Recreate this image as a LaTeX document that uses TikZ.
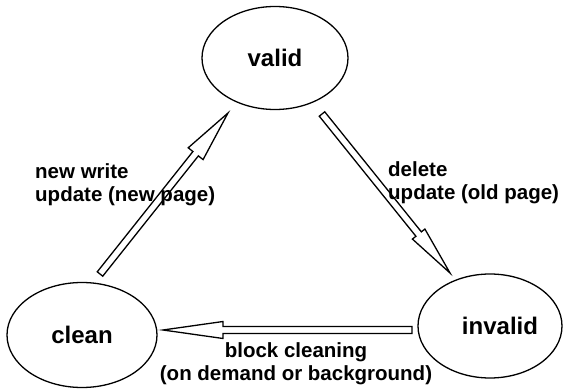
\documentclass[tikz,border=0pt]{standalone}
\usepackage{fontspec}
\setmainfont{Liberation Sans}
\usetikzlibrary{shapes.geometric,calc}

% hollow block arrow: #1 head length, #2 head half-width, #3 tail, #4 tip
\newcommand\blockarrow[4]{%
  \draw[arrowline]
    ($(#3)!3.5pt!90:(#4)$)
    -- ($(#4)!#1!(#3)!3.5pt!90:(#4)$)
    -- ($(#4)!#1!(#3)!#2!90:(#4)$)
    -- (#4)
    -- ($(#4)!#1!(#3)!#2!-90:(#4)$)
    -- ($(#4)!#1!(#3)!3.5pt!-90:(#4)$)
    -- ($(#3)!3.5pt!-90:(#4)$)
    -- cycle;}

\tikzset{
  state/.style={ellipse, draw, line width=1.3pt, inner sep=0pt,
    minimum width=146pt, minimum height=103pt,
    font=\fontsize{24}{28}\selectfont\bfseries},
  arrowline/.style={draw, line width=1.3pt, line join=miter},
  lbl/.style={inner sep=0pt, font=\fontsize{20.5}{23.5}\selectfont\bfseries}
}

\begin{document}
\begin{tikzpicture}[x=1pt, y=-1pt]
  \useasboundingbox (0,0) rectangle (563,390);

  % states
  \node[state] (valid) at (275,58) {valid};
  \node[state, minimum width=150pt, minimum height=105pt] (clean) at (82,335) {clean};
  \node[state, minimum width=144pt, minimum height=104pt,
        label={[font=\fontsize{24}{28}\selectfont\bfseries, xshift=10pt]center:invalid}]
        (invalid) at (490,326) {};

  % arrow end points
  \coordinate (nwtail) at (100,274);
  \coordinate (nwtip)  at (228,113);
  \coordinate (deltail) at (322,114);
  \coordinate (deltip)  at (450,273);
  \coordinate (cltail) at (412,330);
  \coordinate (cltip)  at (163,330);

  % transition labels (base anchor sits on the last line)
  \node[lbl, anchor=base west, align=left] (newlbl) at (35,202)
    {new write\\update (new page)};
  \node[lbl, anchor=base west, align=left] (dellbl) at (388,200)
    {delete\\update (old page)};
  \node[lbl, anchor=base, align=center] (cleanlbl) at (296,381)
    {block cleaning\\(on demand or background)};

  % transitions
  \blockarrow{52pt}{9.5pt}{nwtail}{nwtip}
  \blockarrow{50pt}{8pt}{deltail}{deltip}
  \blockarrow{60pt}{8.5pt}{cltail}{cltip}
\end{tikzpicture}
\end{document}
